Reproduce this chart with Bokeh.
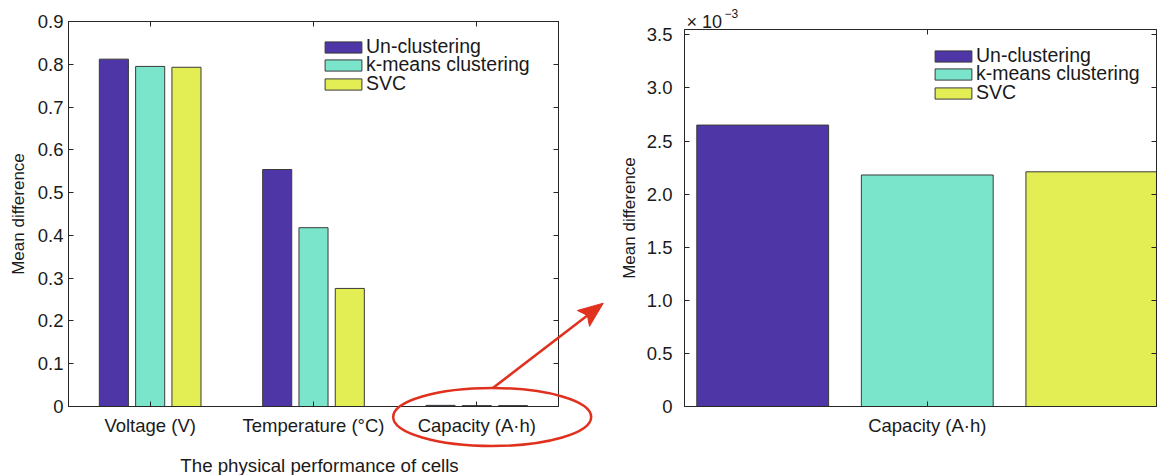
import math
from bokeh.plotting import figure
from bokeh.models import (Range1d, FixedTicker, LinearAxis, CustomJSTickFormatter,
                          Legend, LegendItem, Label, GridBox)
from bokeh.embed import file_html
from bokeh.resources import INLINE

# ---------------- data ----------------
categories = ["Voltage (V)", "Temperature (°C)", "Capacity (A·h)"]
series_names = ["Un-clustering", "k-means clustering", "SVC"]
un_clustering = [0.812, 0.554, 0.00265]
kmeans_clustering = [0.795, 0.418, 0.00218]
svc = [0.793, 0.276, 0.00221]
left_y_ticks = [0, 0.1, 0.2, 0.3, 0.4, 0.5, 0.6, 0.7, 0.8, 0.9]
right_y_ticks_e3 = [0, 0.5, 1.0, 1.5, 2.0, 2.5, 3.0, 3.5]
x_label = "The physical performance of cells"
y_label = "Mean difference"
exponent_base = "× 10"
exponent_power = "−3"

# ---------------- style / layout ----------------
FONT = "Liberation Sans"
AX = "#262626"
EDGE = "#3a3a3a"
TXT = "#1a1a1a"
RED = "#E0311F"
colors = ["#4E36A6", "#7BE5CC", "#E3EE54"]
offsets = [-0.2222, 0.0, 0.2222]
BAR_W = 0.178
values = [un_clustering, kmeans_clustering, svc]

H = 475
W1, W2 = 612, 548
L1, R1, T1, B1 = 68, 54, 21, 69      # left panel borders
L2, R2, T2, B2 = 72, 4, 29, 69       # right panel borders
X1 = (0.5, 3.5)
Y1 = (0.0, 0.9)
LEG_PITCH = 18.3


def no_align(p):
    if "frame_align" in p.properties():
        p.frame_align = False


def style(p):
    p.xgrid.visible = False
    p.ygrid.visible = False
    p.outline_line_color = AX
    p.outline_line_width = 1
    p.background_fill_color = "white"
    p.border_fill_color = "white"
    for ax in p.axis:
        ax.axis_line_color = AX
        ax.major_tick_line_color = AX
        ax.minor_tick_line_color = None
        ax.major_tick_in = 5
        ax.major_tick_out = 0
        ax.major_label_text_font = FONT
        ax.major_label_text_font_size = "18.5px"
        ax.major_label_text_color = TXT
        ax.axis_label_text_font = FONT
        ax.axis_label_text_font_style = "normal"
        ax.axis_label_text_color = TXT


def mirror_axes(p, xticker):
    kw = dict(major_label_text_font_size="0px", major_label_standoff=0, major_tick_in=5,
              major_tick_out=0, axis_line_color=AX, major_tick_line_color=AX,
              minor_tick_line_color=None)
    p.add_layout(LinearAxis(ticker=xticker, **kw), "above")
    p.add_layout(LinearAxis(ticker=p.yaxis[0].ticker, **kw), "right")


def make_legend(p, renderers, vx, vy_top):
    # one single-item legend per series so that the rows sit as tightly as in the original
    for i, (n, r) in enumerate(zip(series_names, renderers)):
        lg = Legend(items=[LegendItem(label=n, renderers=[r])],
                    location=(vx, round(vy_top - i * LEG_PITCH)),
                    orientation="vertical", padding=0, margin=0, spacing=0,
                    glyph_width=46, glyph_height=14, label_height=14, label_standoff=0,
                    label_text_font=FONT, label_text_font_size="19.5px", label_text_color=TXT,
                    border_line_color=None, background_fill_alpha=0)
        p.add_layout(lg)


# ---------------- left panel ----------------
p1 = figure(width=W1, height=H, x_range=Range1d(*X1), y_range=Range1d(*Y1),
            output_backend="svg", toolbar_location=None,
            min_border_left=L1, min_border_right=R1, min_border_top=T1, min_border_bottom=B1)
no_align(p1)
pos = [i + 1 for i in range(len(categories))]
rends = []
for vals, off, col in zip(values, offsets, colors):
    r = p1.vbar(x=[x + off for x in pos], top=vals, width=BAR_W, bottom=0,
                fill_color=col, line_color=EDGE, line_width=1)
    rends.append(r)
xt1 = FixedTicker(ticks=pos)
p1.xaxis.ticker = xt1
p1.xaxis.major_label_overrides = {x: c for x, c in zip(pos, categories)}
p1.xaxis.major_label_standoff = 8
p1.yaxis.ticker = FixedTicker(ticks=left_y_ticks)
p1.yaxis.formatter = CustomJSTickFormatter(code="return tick == 0 ? '0' : tick.toFixed(1);")
p1.yaxis.major_label_standoff = 5
p1.yaxis.axis_label = y_label
p1.yaxis.axis_label_text_font_size = "17px"
p1.yaxis.axis_label_standoff = 7
style(p1)
mirror_axes(p1, xt1)
make_legend(p1, rends, 252, 348)

# ---------------- right panel ----------------
x2 = (0.6722, 1.3095)
y2 = (0.0, 3.55e-3)
p2 = figure(width=W2, height=H, x_range=Range1d(*x2), y_range=Range1d(*y2),
            output_backend="svg", toolbar_location=None,
            min_border_left=L2, min_border_right=R2, min_border_top=T2, min_border_bottom=B2)
no_align(p2)
rends2 = []
for vals, off, col in zip(values, offsets, colors):
    r = p2.vbar(x=[1 + off], top=[vals[2]], width=BAR_W, bottom=0,
                fill_color=col, line_color=EDGE, line_width=1)
    rends2.append(r)
xt2 = FixedTicker(ticks=[1])
p2.xaxis.ticker = xt2
p2.xaxis.major_label_overrides = {1: categories[2]}
p2.xaxis.major_label_standoff = 8
p2.yaxis.ticker = FixedTicker(ticks=[v * 1e-3 for v in right_y_ticks_e3])
p2.yaxis.formatter = CustomJSTickFormatter(code="return tick == 0 ? '0' : (tick*1000).toFixed(1);")
p2.yaxis.major_label_standoff = 12
p2.yaxis.axis_label = y_label
p2.yaxis.axis_label_text_font_size = "17px"
p2.yaxis.axis_label_standoff = 5
style(p2)
mirror_axes(p2, xt2)
make_legend(p2, rends2, 246, 339)

# ---------------- overlay: texts and red ellipse + arrow (left-panel data coords) ----------------
PXX = (W1 - L1 - R1) / (X1[1] - X1[0])
PXY = (H - T1 - B1) / (Y1[1] - Y1[0])
ox0 = X1[0] - L1 / PXX
oy0 = Y1[0] - B1 / PXY
p3 = figure(width=W1 + W2, height=H, x_range=Range1d(ox0, ox0 + (W1 + W2) / PXX),
            y_range=Range1d(oy0, oy0 + H / PXY), output_backend="svg", toolbar_location=None,
            x_axis_location=None, y_axis_location=None, min_border=0,
            min_border_left=0, min_border_right=0, min_border_top=0, min_border_bottom=0,
            background_fill_alpha=0, border_fill_alpha=0, outline_line_color=None)
no_align(p3)
p3.xgrid.visible = False
p3.ygrid.visible = False

# x-axis title of the left panel
p3.add_layout(Label(x=2, y=0, x_offset=6, y_offset=-59, text=x_label, text_align="center",
                    text_baseline="middle", text_font=FONT, text_font_size="18.7px",
                    text_color=TXT))
# exponent of the right panel, anchored at its frame's top-left corner
p2_left = ox0 + (W1 + L2) / PXX
p2_top = oy0 + (H - T2) / PXY
p3.add_layout(Label(x=p2_left, y=p2_top, x_offset=2, y_offset=8, text=exponent_base,
                    text_font=FONT, text_font_size="18px", text_color=TXT,
                    text_baseline="alphabetic"))
p3.add_layout(Label(x=p2_left, y=p2_top, x_offset=40, y_offset=16, text=exponent_power,
                    text_font=FONT, text_font_size="12px", text_color=TXT,
                    text_baseline="alphabetic"))

ecx, ecy = 3.094, -0.0245
p3.ellipse(x=[ecx], y=[ecy], width=198, height=58, width_units="screen", height_units="screen",
           fill_alpha=0, line_color=RED, line_width=2.5)

sx, sy = 3.100, 0.0437
tx, ty = 3.774, 0.2415
dxp, dyp = (tx - sx) * PXX, (ty - sy) * PXY
Lr = math.hypot(dxp, dyp)
ux, uy = dxp / Lr, dyp / Lr
hl, hw, notch = 25.0, 10.0, 20.0
p3.line(x=[sx, tx - ux * 18 / PXX], y=[sy, ty - uy * 18 / PXY], line_color=RED, line_width=2.5)
head_x = [tx, tx + (-ux * hl - uy * hw) / PXX, tx - ux * notch / PXX, tx + (-ux * hl + uy * hw) / PXX]
head_y = [ty, ty + (-uy * hl + ux * hw) / PXY, ty - uy * notch / PXY, ty + (-uy * hl - ux * hw) / PXY]
p3.patch(x=head_x, y=head_y, fill_color=RED, line_color=RED, line_width=1)

layout = GridBox(children=[(p1, 0, 0), (p2, 0, 1), (p3, 0, 0, 1, 2)], spacing=0)
open("out.html", "w").write(file_html(layout, INLINE))
